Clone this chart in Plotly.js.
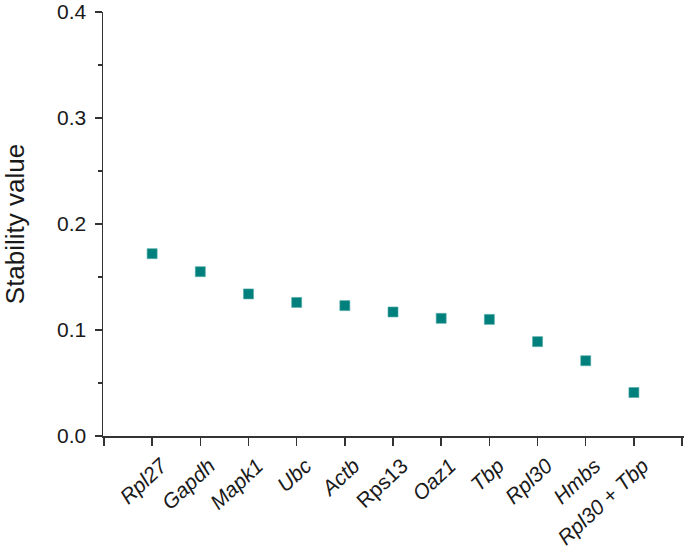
<!DOCTYPE html>
<html>
<head>
<meta charset="utf-8">
<script src="https://cdn.plot.ly/plotly-3.0.1.min.js"></script>
<style>html,body{margin:0;padding:0;background:#fff;}#chart{width:685px;height:554px;}</style>
</head>
<body>
<div id="chart"></div>
<script>
// Data
const genes = ["Rpl27", "Gapdh", "Mapk1", "Ubc", "Actb", "Rps13", "Oaz1", "Tbp", "Rpl30", "Hmbs", "Rpl30 + Tbp"];
const stability = [0.172, 0.155, 0.134, 0.126, 0.123, 0.117, 0.111, 0.110, 0.089, 0.071, 0.041];
const italicLabel = [true, true, true, true, true, false, true, true, true, true, true];
const yTickVals = [0, 0.1, 0.2, 0.3, 0.4];
const yTickText = ["0.0", "0.1", "0.2", "0.3", "0.4"];

const xPos = genes.map((g, i) => i + 1);
const xTickVals = [0].concat(xPos).concat([genes.length + 1]);
const xTickText = [""].concat(genes.map((g, i) => italicLabel[i] ? "<i>" + g + "</i>" : g)).concat([""]);

const trace = {
  x: xPos,
  y: stability,
  text: genes,
  type: "scatter",
  mode: "markers",
  marker: { symbol: "square", size: 10, color: "#00807c", line: { width: 0.6, color: "#4fa9a6" } },
  hoverinfo: "text+y"
};

const axisFont = { family: "Arial, Liberation Sans, sans-serif", size: 21, color: "#1a1a1a" };

const layout = {
  width: 685,
  height: 554,
  margin: { l: 103, r: 1, t: 12, b: 118 },
  paper_bgcolor: "#fff",
  plot_bgcolor: "#fff",
  showlegend: false,
  font: axisFont,
  xaxis: {
    range: [-0.02, genes.length + 1.04],
    tickmode: "array",
    tickvals: xTickVals,
    ticktext: xTickText,
    tickangle: -43,
    ticklabelshift: 9,
    ticklabeloverflow: "allow",
    ticks: "outside",
    ticklen: 8,
    tickwidth: 1.5,
    tickcolor: "#333",
    showline: true,
    linecolor: "#333",
    linewidth: 1.5,
    showgrid: false,
    zeroline: false,
    tickfont: axisFont,
    fixedrange: true
  },
  yaxis: {
    range: [-0.00002, 0.40002],
    tickmode: "array",
    tickvals: yTickVals,
    ticktext: yTickText,
    ticks: "outside",
    ticklen: 7,
    tickwidth: 1.5,
    tickcolor: "#333",
    ticklabelstandoff: 4,
    ticklabeloverflow: "allow",
    minor: { dtick: 0.05, tick0: 0, ticks: "outside", ticklen: 4, tickwidth: 1.2, tickcolor: "#333", showgrid: false },
    showline: true,
    linecolor: "#333",
    linewidth: 1.5,
    showgrid: false,
    zeroline: false,
    tickfont: axisFont,
    title: { text: "Stability value", font: { family: "Arial, Liberation Sans, sans-serif", size: 26, color: "#1a1a1a" }, standoff: 30 },
    fixedrange: true
  }
};

Plotly.newPlot("chart", [trace], layout, { displayModeBar: false, staticPlot: true });
</script>
</body>
</html>
